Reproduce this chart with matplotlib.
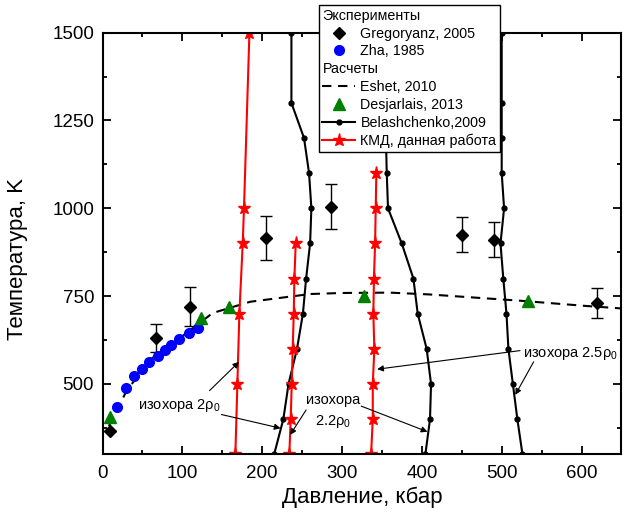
import matplotlib
matplotlib.use('Agg')
import matplotlib.pyplot as plt
from matplotlib.lines import Line2D
from matplotlib.ticker import MultipleLocator

plt.rcParams['font.family'] = ['Liberation Sans', 'DejaVu Sans']
plt.rcParams['mathtext.default'] = 'regular'

# Эксперимент: Gregoryanz, 2005 (давление, кбар / температура, K / погрешность)
greg_p = [9, 67, 110, 205, 286, 450, 490, 619]
greg_t = [367, 630, 720, 915, 1005, 925, 910, 731]
greg_err = [0, 40, 55, 63, 65, 50, 50, 43]

# Эксперимент: Zha, 1985
zha_p = [18.6, 29, 39.5, 49, 58.2, 69, 78.3, 85.8, 96.2, 108.4, 119.2]
zha_t = [435, 488, 522, 542, 563, 580, 597, 611, 628, 644, 660]

# Расчет: Eshet, 2010 (линия плавления)
eshet_p = [8, 30, 60, 100, 138, 185, 260, 300, 360, 408, 523, 606, 650]
eshet_t = [380, 480, 570, 636, 702, 734, 756, 759, 760, 755, 737, 722, 715]

# Расчет: Desjarlais, 2013
desj_p = [9.4, 123.4, 159, 328, 532.6]
desj_t = [407, 687, 718, 750, 736]

# Расчет: Belashchenko, 2009 (три изохоры)
bel_t = [300, 400, 500, 600, 700, 800, 900, 1000, 1100, 1200, 1300, 1500]
bel1_p = [215, 226.5, 233, 243.6, 251, 255, 260, 261.6, 258.7, 252.4, 236.6, 236.6]
bel2_p = [404.4, 410.2, 411.5, 406, 394.8, 389.4, 374.8, 357.6, 356, 355, 355, 355]
bel3_p = [526, 519.6, 514, 508.4, 506, 502, 498.5, 503, 500, 500, 500, 500]

# КМД, данная работа
kmd1_t = [300, 500, 700, 900, 1000, 1500]
kmd1_p = [166.4, 168.9, 171.4, 175.6, 177.2, 184]
kmd2_t = [300, 400, 500, 600, 700, 800, 900]
kmd2_p = [234, 235.7, 237, 238.2, 239.5, 240.3, 242]
kmd3_t = [300, 400, 500, 600, 700, 800, 900, 1000, 1100]
kmd3_p = [336.4, 338.5, 338.5, 340.5, 339.2, 340, 341.4, 342.2, 343]

fig = plt.figure(figsize=(6.29, 5.15), dpi=100)
ax = fig.add_axes([0.163, 0.118, 0.825, 0.8186])

dash = (0, (4.5, 3.2))
ax.plot(eshet_p, eshet_t, color='k', lw=1.5, linestyle=dash)

bel_style = dict(color='k', lw=1.5, marker='o', ms=3.5)
ax.plot(bel1_p, bel_t, **bel_style)
ax.plot(bel2_p, bel_t, **bel_style)
ax.plot(bel3_p, bel_t, **bel_style)

kmd_style = dict(color='red', lw=1.5, marker='*', ms=9.5, mec='red', mfc='red')
ax.plot(kmd1_p, kmd1_t, **kmd_style)
ax.plot(kmd2_p, kmd2_t, **kmd_style)
ax.plot(kmd3_p, kmd3_t, **kmd_style)

ax.errorbar(greg_p, greg_t, yerr=greg_err, fmt='D', color='k', ms=6.3,
            ecolor='k', elinewidth=1, capsize=4, capthick=1, zorder=5)
ax.plot(zha_p, zha_t, 'o', color='#0000ff', ms=7, zorder=5)
ax.plot(desj_p, desj_t, '^', color='#008000', ms=8.5, zorder=5)

# подписи изохор и стрелки
fs = 10.5
arr = dict(arrowstyle='-|>', color='k', lw=0.8, mutation_scale=9,
           shrinkA=0, shrinkB=0)
ax.text(44, 440, 'изохора 2$\\rho_0$', fontsize=fs, va='center', ha='left')
ax.annotate('', xy=(171, 563), xytext=(134, 481), arrowprops=arr)
ax.annotate('', xy=(223, 374), xytext=(149, 413), arrowprops=arr)

ax.text(288.5, 455, 'изохора', fontsize=fs, va='center', ha='center')
ax.text(288.5, 393, '2.2$\\rho_0$', fontsize=fs, va='center', ha='center')
ax.annotate('', xy=(235, 355), xytext=(255, 426), arrowprops=arr)
ax.annotate('', xy=(407, 364), xytext=(324, 437), arrowprops=arr)

ax.text(527, 588, 'изохора 2.5$\\rho_0$', fontsize=fs, va='center', ha='left')
ax.annotate('', xy=(344, 542), xytext=(523, 595), arrowprops=arr)
ax.annotate('', xy=(517, 469), xytext=(540, 563), arrowprops=arr)

ax.set_xlim(0, 650)
ax.set_ylim(300, 1500)
ax.xaxis.set_major_locator(MultipleLocator(100))
ax.xaxis.set_minor_locator(MultipleLocator(50))
ax.yaxis.set_major_locator(MultipleLocator(250))
ax.yaxis.set_minor_locator(MultipleLocator(125))
ax.tick_params(which='both', direction='in', top=True, right=True, width=1.3)
ax.tick_params(which='major', length=5.5, labelsize=13.5, pad=6)
ax.tick_params(axis='x', which='major', pad=8)
ax.tick_params(which='minor', length=3)
for s in ax.spines.values():
    s.set_linewidth(1.5)

ax.set_xlabel('Давление, кбар', fontsize=16, labelpad=3)
ax.set_ylabel('Температура, K', fontsize=16)
ax.yaxis.set_label_coords(-0.1435, 0.463)

# легенда с заголовками разделов
blank = Line2D([], [], color='none')
handles = [
    blank,
    Line2D([], [], color='k', marker='D', ls='none', ms=6.3),
    Line2D([], [], color='#0000ff', marker='o', ls='none', ms=7),
    blank,
    Line2D([], [], color='k', lw=1.5, linestyle=dash),
    Line2D([], [], color='#008000', marker='^', ls='none', ms=8.5),
    Line2D([], [], **bel_style),
    Line2D([], [], **kmd_style),
]
labels = ['Эксперименты', 'Gregoryanz, 2005', 'Zha, 1985', 'Расчеты',
          'Eshet, 2010', 'Desjarlais, 2013', 'Belashchenko,2009',
          'КМД, данная работа']
headers = ['Эксперименты', 'Расчеты']
leg = ax.legend(handles, labels, loc='upper left',
                bbox_to_anchor=(0.507, 0.990), bbox_transform=fig.transFigure,
                fontsize=10.3, handlelength=2.3, handletextpad=0.35,
                labelspacing=0.27, borderpad=0.25, borderaxespad=0,
                fancybox=False, framealpha=1, edgecolor='k')
leg.get_frame().set_linewidth(1)
for vpack in leg._legend_handle_box.get_children():
    for hpack in vpack.get_children():
        area, txt = hpack.get_children()
        if txt.get_text() in headers:
            area.set_width(0)
            hpack.sep = 0

fig.savefig('out.png', dpi=100)
